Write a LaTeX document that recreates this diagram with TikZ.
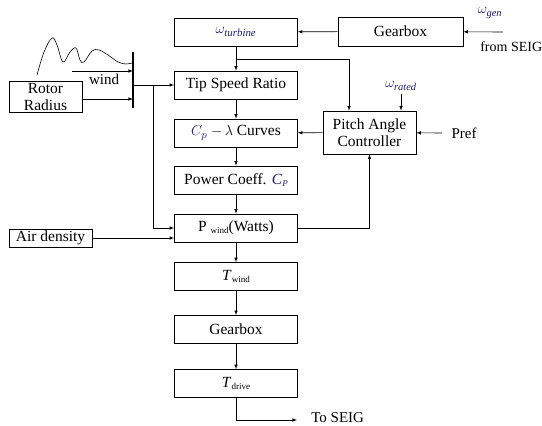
\documentclass[tikz,border=0pt]{standalone}
\usepackage{fontspec}
\setmainfont{Liberation Serif}
\usetikzlibrary{arrows}
\definecolor{mathblue}{RGB}{30,30,100}
\newcommand{\lowtxt}[1]{\raisebox{-2pt}{\fontsize{9}{9}\selectfont #1}}

\begin{document}
\begin{tikzpicture}[x=1pt, y=-1pt, >=latex, line width=0.6pt,
  blk/.style={draw, minimum width=123pt, minimum height=28pt, inner sep=1pt, font=\fontsize{15.5}{17}\selectfont},
  sblk/.style={draw, inner sep=1pt, align=center, font=\fontsize{15.5}{17}\selectfont},
  lbl/.style={inner sep=1pt, font=\fontsize{15}{17}\selectfont}]
 \useasboundingbox (0,0) rectangle (542,426);
 \node[blk] (omt) at (236,32) {\textcolor{mathblue}{$\omega_{\mathit{turbine}}$}};
 \node[blk, minimum width=125pt, minimum height=29pt] (gbt) at (400.5,31.5) {Gearbox};
 \node[blk] (tsr) at (236,85) {Tip Speed Ratio};
 \node[blk] (cpl) at (236,133) {\textcolor{mathblue}{$C_p$} $-\,\lambda$ Curves};
 \node[blk] (pcf) at (236,180) {Power Coeff. \textcolor{mathblue}{\textit{C}\lowtxt{\textit{P}}}};
 \node[blk] (pw) at (236,228) {P \lowtxt{wind}(Watts)};
 \node[blk] (tw) at (236,276.5) {\textit{T}\lowtxt{wind}};
 \node[blk] (gbd) at (236,329.5) {Gearbox};
 \node[blk] (td) at (236,383.5) {\textit{T}\lowtxt{drive}};
 \node[sblk, minimum width=93pt, minimum height=43pt] (pac) at (369.5,132.5) {Pitch Angle\\Controller};
 \node[sblk, minimum width=73pt, minimum height=31pt] (rr) at (45.5,96.5) {Rotor\\Radius};
 \node[sblk, minimum width=83pt, minimum height=18pt] (air) at (50.5,238) {Air density};
 \node[lbl] (wgen) at (490,13) {\textcolor{mathblue}{$\omega_{\mathit{gen}}$}};
 \node[lbl, anchor=west, font=\fontsize{14}{16}\selectfont] (fseig) at (479,47) {from SEIG};
 \node[lbl] (wrat) at (401,86) {\textcolor{mathblue}{$\omega_{\mathit{rated}}$}};
 \node[lbl] (pref) at (464,133) {Pref};
 \node[lbl, anchor=west] (tseig) at (310,418) {To SEIG};
 \node[lbl] (wind) at (104,79) {wind};
 \coordinate (btop) at (133,52);
 \coordinate (bbot) at (133,108);
 \coordinate (win) at (72,71);
 \coordinate (bmid) at (133,85);
 \coordinate (brk) at (153,85);
 \coordinate (j1) at (236,59);
 \coordinate (gin) at (503,32);
 \coordinate (pin) at (442,133);
 \coordinate (wr) at (401,94);
 \coordinate (tend) at (297,420);
 \draw[line width=2pt] (btop) -- (bbot);
 \draw plot[smooth, tension=0.6] coordinates {(37,75) (44,52) (52,38) (57,45) (63,62) (70,52) (76,48) (80,60) (84,62) (92,51) (99,50) (108,55) (118,62) (126,64) (132,63)};
 \path[->]
  (win) edge (win -| btop)
  (rr.east |- 0,99) edge (btop |- 0,99)
  (bmid) edge (tsr)
  (brk) edge[to path={|- (\tikztotarget)}] (pw.west)
  (air) edge (air -| pw.west)
  (gin) edge (gbt)
  (gbt) edge (omt)
  (omt) edge (tsr)
  (j1) edge[to path={-| (\tikztotarget)}] ([xshift=-20.5pt]pac.north)
  (wr) edge (wr |- pac.north)
  (pin) edge (pac)
  (pac) edge (cpl)
  (pw) edge[to path={-| (\tikztotarget)}] (pac)
  (tsr) edge (cpl)
  (cpl) edge (pcf)
  (pcf) edge (pw)
  (pw) edge (tw)
  (tw) edge (gbd)
  (gbd) edge (td)
  (td.south) edge[to path={|- (\tikztotarget)}] (tend)
 ;
\end{tikzpicture}
\end{document}
